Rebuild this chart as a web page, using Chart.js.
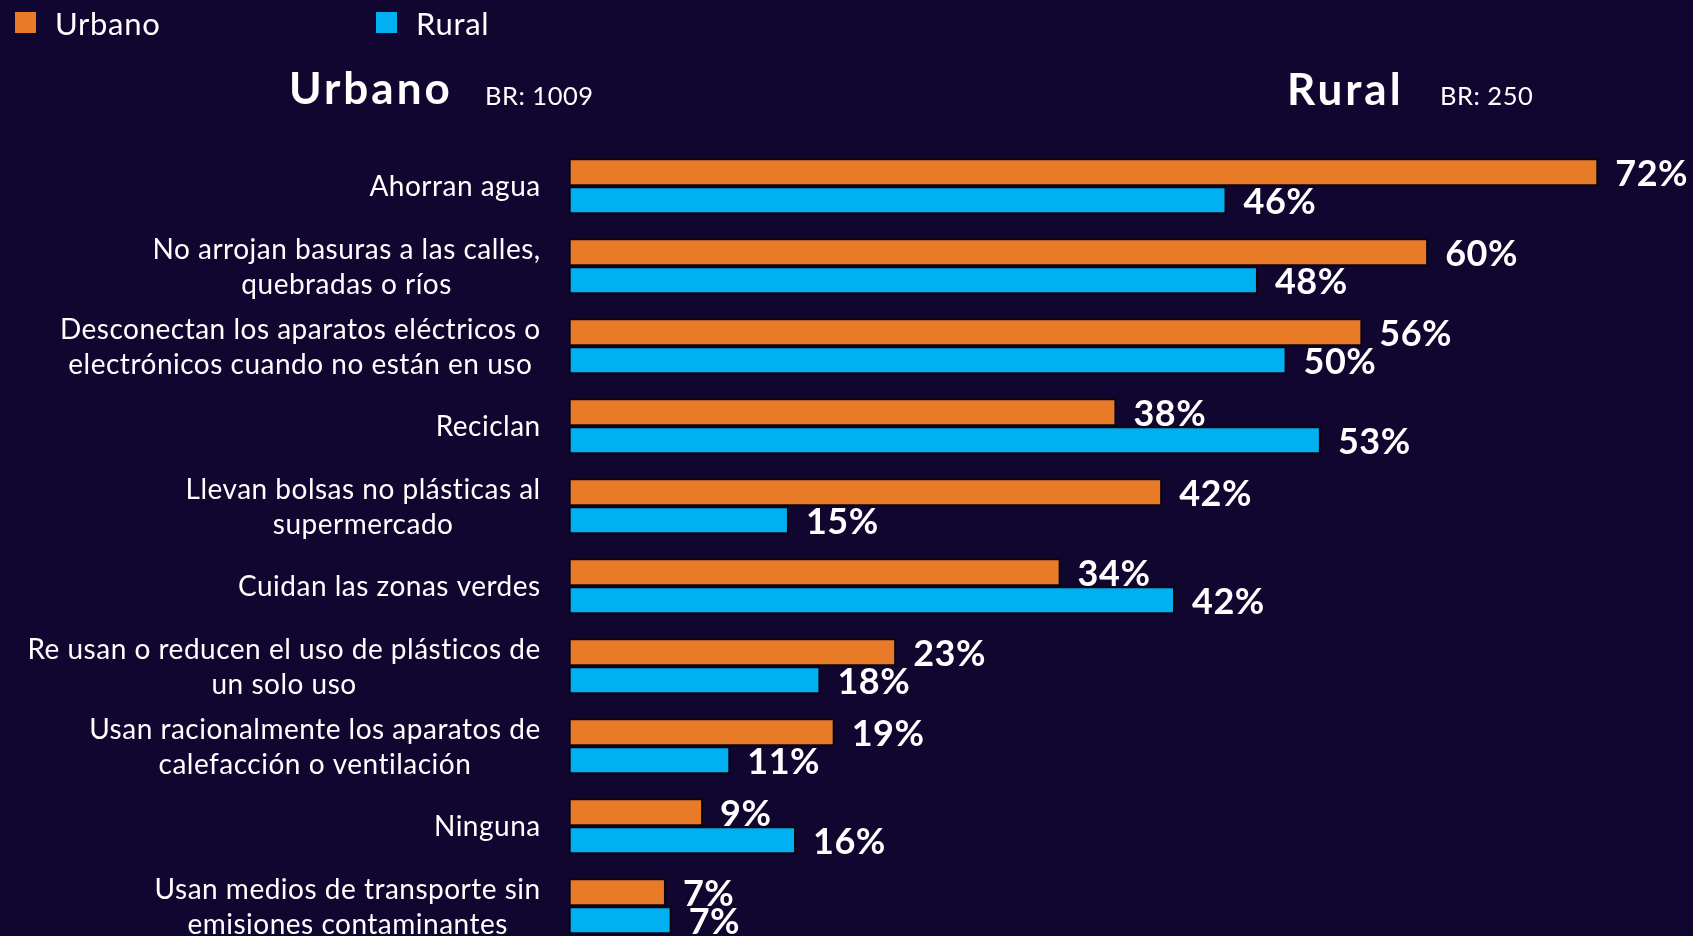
<!DOCTYPE html>
<html lang="es">
<head>
<meta charset="utf-8">
<title>Acciones ambientales - Urbano vs Rural</title>
<script src="https://cdn.jsdelivr.net/npm/chart.js@4.4.1/dist/chart.umd.min.js"></script>
<style>
    html, body {
        margin: 0;
        padding: 0;
        background: #10062f;
        overflow: hidden;
    }
    #wrap {
        width: 1693px;
        height: 936px;
        overflow: hidden;
    }
</style>
</head>
<body>
<div id="wrap">
    <canvas id="grafica" width="1693" height="960"></canvas>
</div>
<script>
// Categorias (de arriba hacia abajo)
const categorias = [
    'Ahorran agua',
    ['No arrojan basuras a las calles,', 'quebradas o ríos'],
    ['Desconectan los aparatos eléctricos o', 'electrónicos cuando no están en uso'],
    'Reciclan',
    ['Llevan bolsas no plásticas al', 'supermercado'],
    'Cuidan las zonas verdes',
    ['Re usan o reducen el uso de plásticos de', 'un solo uso'],
    ['Usan racionalmente los aparatos de', 'calefacción o ventilación'],
    'Ninguna',
    ['Usan medios de transporte sin', 'emisiones contaminantes']
];

const urbano = [72, 60.1, 55.5, 38.3, 41.5, 34.4, 22.9, 18.6, 9.4, 6.8];
const rural = [46, 48.2, 50.2, 52.6, 15.4, 42.4, 17.6, 11.3, 15.9, 7.2];

// Base de respuestas
const baseUrbano = 'BR: 1009';
const baseRural = 'BR: 250';

const FONT = 'Lato, "Noto Sans", sans-serif';
const naranja = '#e97b28';
const azul = '#00b0f0';

// Dibuja leyenda, titulos, etiquetas de categoria y valores
const textosPlugin = {
    id: 'textos',
    afterDraw(chart) {
        const ctx = chart.ctx;
        const area = chart.chartArea;
        const yScale = chart.scales.y;
        ctx.save();
        ctx.fillStyle = '#ffffff';
        ctx.textBaseline = 'alphabetic';

        // Leyenda
        const leyendaX = [15, 376];
        chart.data.datasets.forEach((ds, i) => {
            ctx.fillStyle = ds.backgroundColor;
            ctx.fillRect(leyendaX[i], 12, 21, 21);
            ctx.fillStyle = '#ffffff';
            ctx.font = '31px ' + FONT;
            ctx.letterSpacing = '0.7px';
            ctx.textAlign = 'left';
            ctx.fillText(ds.label, leyendaX[i] + 40, 35);
        });

        // Titulos de cada zona
        ctx.font = 'bold 44px ' + FONT;
        ctx.letterSpacing = '3px';
        ctx.fillText('Urbano', 289, 104);
        ctx.fillText('Rural', 1287, 105);
        ctx.font = '25.5px ' + FONT;
        ctx.letterSpacing = '0.5px';
        ctx.fillText(baseUrbano, 485, 105);
        ctx.fillText(baseRural, 1440, 105);

        // Etiquetas de categoria (bloque alineado a la derecha, lineas centradas)
        const tamLabel = 28;
        const altoLinea = 35.6;
        ctx.font = tamLabel + 'px ' + FONT;
        ctx.letterSpacing = '0.5px';
        ctx.textAlign = 'center';
        const derecha = area.left - 28;
        chart.data.labels.forEach((lab, i) => {
            const lineas = Array.isArray(lab) ? lab : [lab];
            const ancho = Math.max(...lineas.map(l => ctx.measureText(l).width));
            const cx = derecha - ancho / 2;
            const cy = yScale.getPixelForTick(i);
            const y0 = cy - (lineas.length - 1) * altoLinea / 2;
            lineas.forEach((l, j) => {
                ctx.fillText(l, cx, y0 + j * altoLinea + tamLabel * 0.36);
            });
        });

        // Valores al final de cada barra
        ctx.font = 'bold 36px ' + FONT;
        ctx.letterSpacing = '0.5px';
        ctx.textAlign = 'left';
        chart.data.datasets.forEach((ds, i) => {
            const meta = chart.getDatasetMeta(i);
            meta.data.forEach((bar, j) => {
                ctx.fillText(Math.round(ds.data[j]) + '%', bar.x + 17, bar.y + 13.5);
            });
        });
        ctx.restore();
    }
};

const fuentes = ['31px Lato', 'bold 44px Lato', '25.5px Lato', '28px Lato', 'bold 36px Lato'];

Promise.all(fuentes.map(f => document.fonts.load(f))).catch(() => {}).then(() => {
    new Chart(document.getElementById('grafica'), {
        type: 'bar',
        data: {
            labels: categorias,
            datasets: [
                {
                    label: 'Urbano',
                    data: urbano,
                    backgroundColor: naranja,
                    borderColor: '#0b0608',
                    borderWidth: 2,
                    borderSkipped: false,
                    categoryPercentage: 0.7,
                    barPercentage: 1
                },
                {
                    label: 'Rural',
                    data: rural,
                    backgroundColor: azul,
                    borderColor: '#0b0608',
                    borderWidth: 2,
                    borderSkipped: false,
                    categoryPercentage: 0.7,
                    barPercentage: 1
                }
            ]
        },
        options: {
            indexAxis: 'y',
            responsive: false,
            animation: false,
            layout: {
                padding: { left: 568.7, right: 51.8, top: 146.3, bottom: 13.7 }
            },
            plugins: {
                legend: { display: false },
                title: { display: false },
                tooltip: { enabled: false }
            },
            scales: {
                x: { display: false, min: 0, max: 75 },
                y: { display: false }
            }
        },
        plugins: [textosPlugin]
    });
});
</script>
</body>
</html>
